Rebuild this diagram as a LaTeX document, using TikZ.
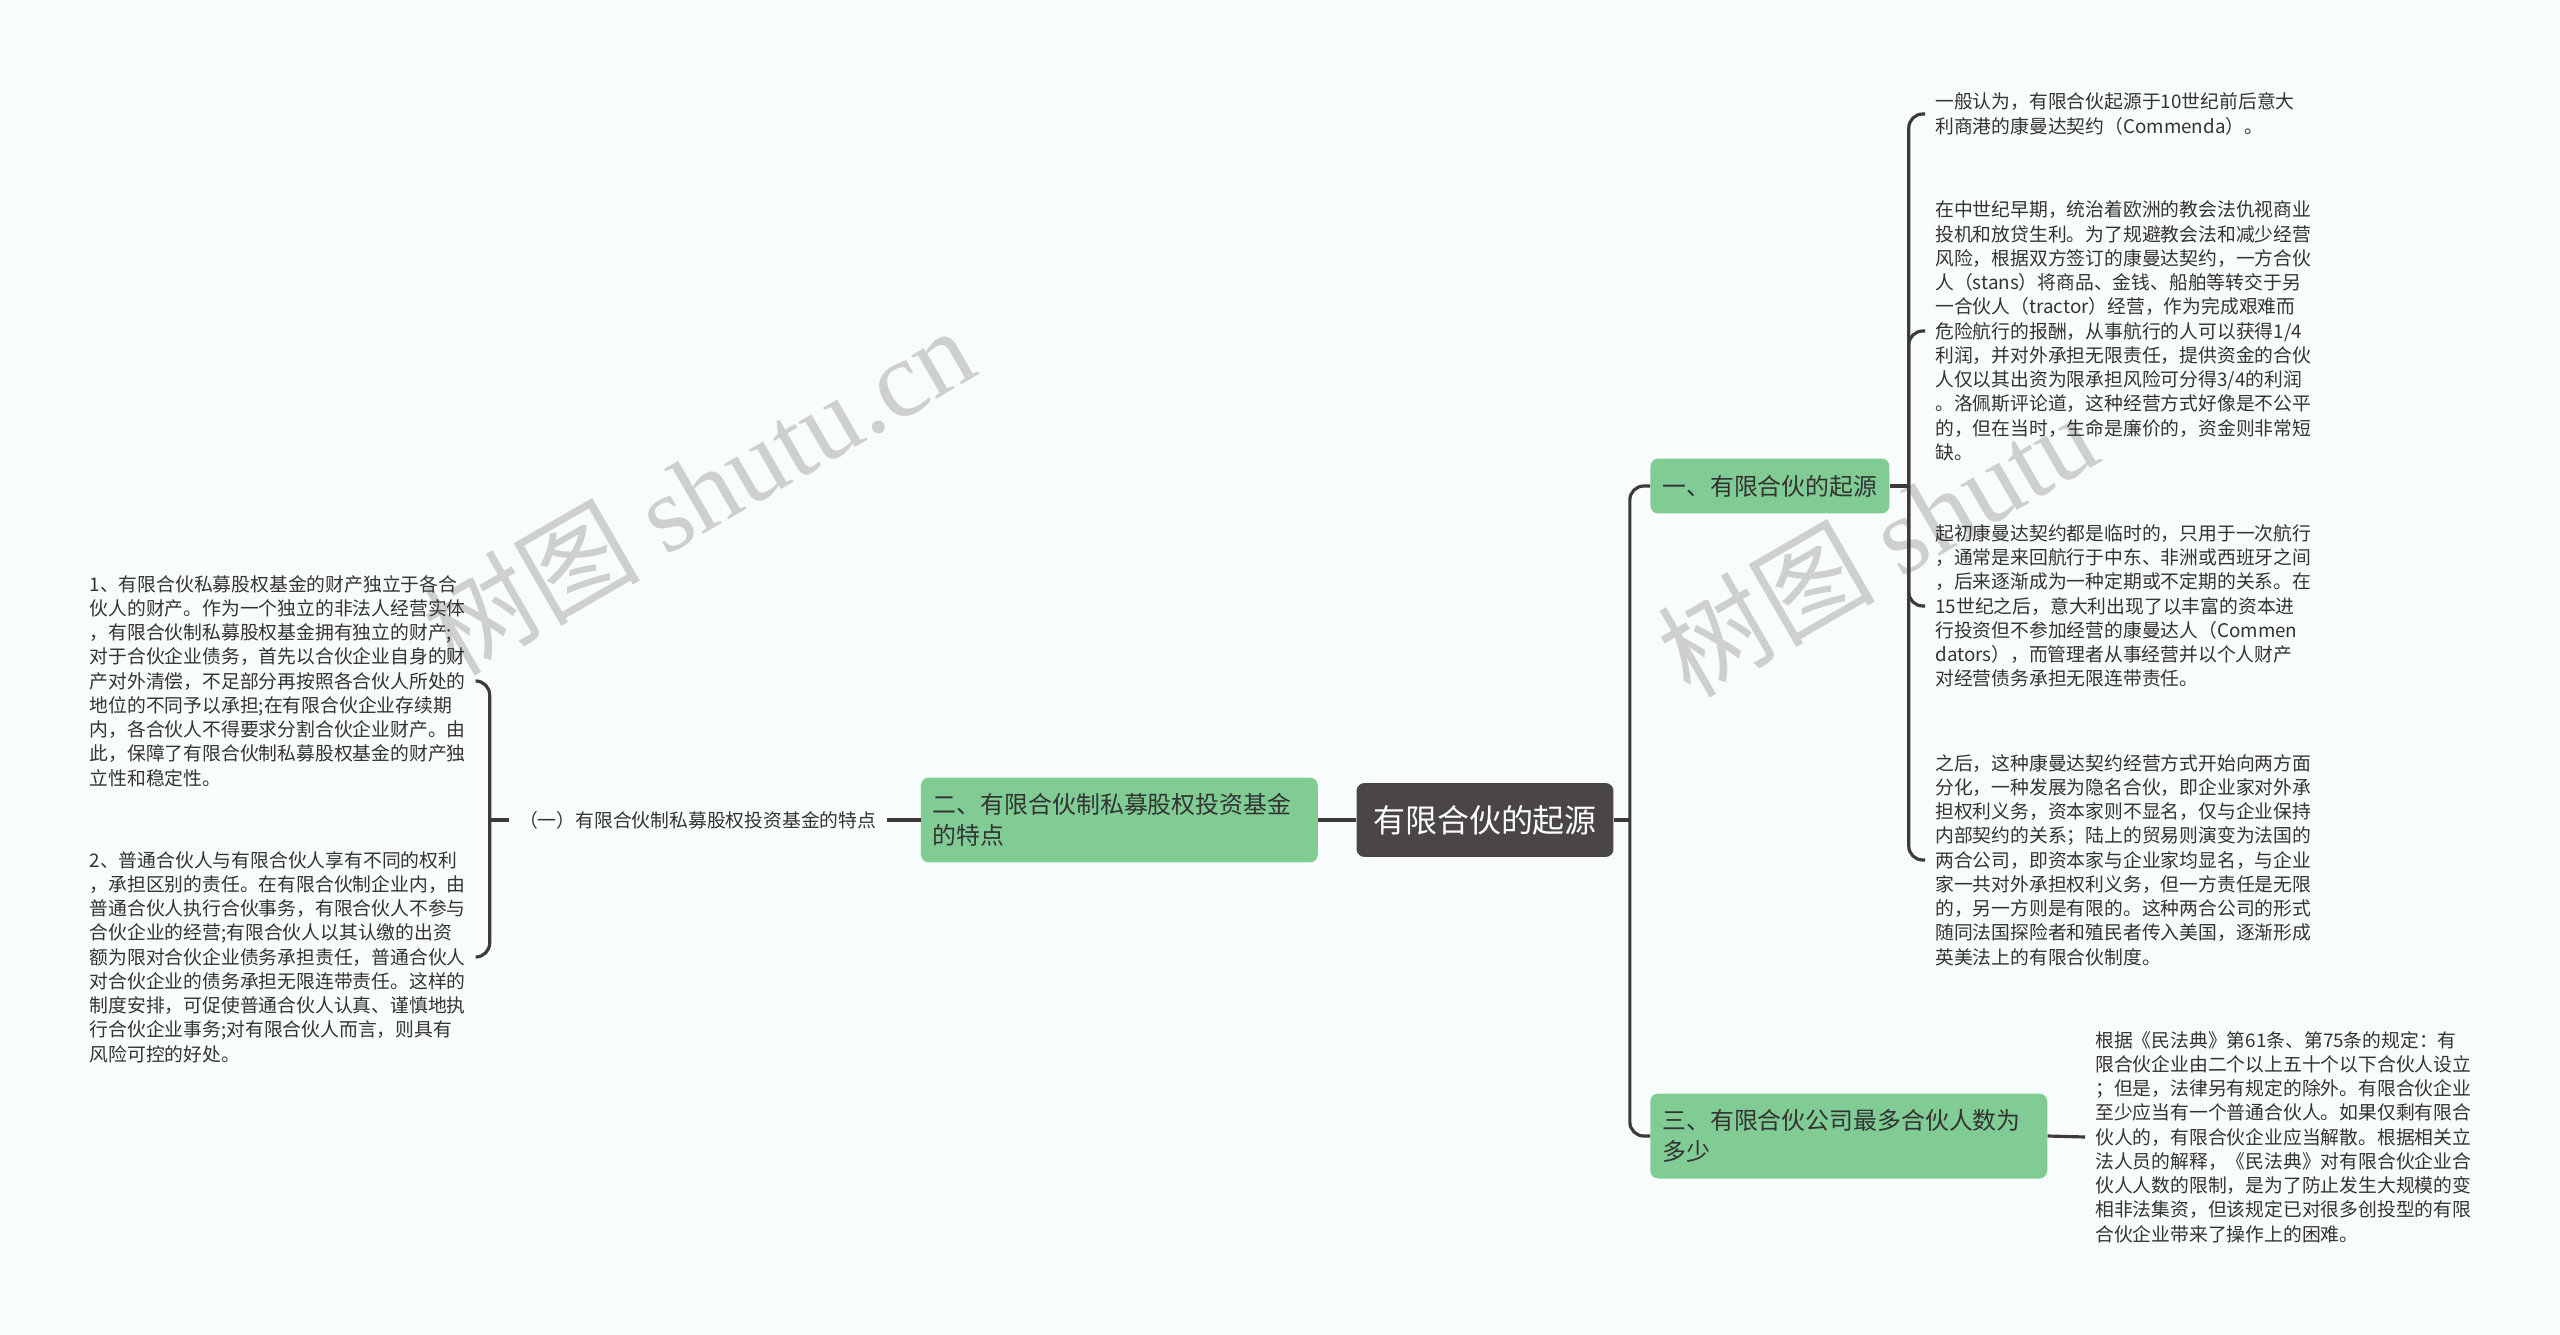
\documentclass[tikz,border=0pt]{standalone}
\usepackage{fontspec}
\setmainfont{Noto Sans CJK SC}
\newfontfamily\wmfont{Liberation Serif}
\usepackage{tikz}
\usetikzlibrary{positioning, calc}

\definecolor{bgcol}{RGB}{248,252,253}
\definecolor{rootcol}{RGB}{74,70,70}
\definecolor{topiccol}{RGB}{128,204,148}
\definecolor{linecol}{RGB}{62,58,58}
\definecolor{txtcol}{RGB}{51,51,51}
\definecolor{wmcol}{RGB}{206,208,208}

\begin{document}
\begin{tikzpicture}[
            x=0.02cm, y=-0.02cm,
            % Estilos de los nodos
            rootbox/.style={rectangle, rounded corners=0.16cm, fill=rootcol, text=white, minimum width=5.14cm, minimum height=1.48cm, font=\fontsize{18.2pt}{22pt}\selectfont},
            topic/.style={rectangle, rounded corners=0.16cm, fill=topiccol, text=txtcol, minimum height=1.1cm, inner xsep=0.24cm, font=\fontsize{13.6pt}{17.6pt}\selectfont},
            topicwide/.style={topic, text width=7.46cm, align=left, minimum height=1.7cm},
            para/.style={text=txtcol, align=left, inner xsep=0.2cm, inner ysep=0pt, font=\fontsize{10.7pt}{13.8pt}\selectfont},
            sub/.style={text=txtcol, inner xsep=0.2cm, font=\fontsize{10.7pt}{13.8pt}\selectfont},
            link/.style={draw=linecol, line width=1.8pt, rounded corners=0.28cm},
            wmark/.style={text=wmcol, rotate=30, font=\fontsize{62pt}{70pt}\selectfont}
        ]

            % Fondo y marcas de agua
            \fill[bgcol] (0,0) rectangle (2560,1335);
            \useasboundingbox (0,0) rectangle (2560,1335);
            \node[wmark] (wm1) at (698,490) {树图 {\wmfont shutu.cn}};
            \node[wmark] (wm2) at (1877,544) {树图 {\wmfont shutu}};

            % Nodos principales
            \node[rootbox] (root) at (1485,820) {有限合伙的起源};
            \node[topicwide, left=0.76cm of root] (n2) {二、有限合伙制私募股权投资基金\\的特点};
            \node[sub, left=0.68cm of n2] (lab) {（一）有限合伙制私募股权投资基金的特点};
            \node[topic, anchor=west] (n1) at (1650,486) {一、有限合伙的起源};
            \node[topicwide, anchor=west] (n3) at (1650,1136) {三、有限合伙公司最多合伙人数为\\多少};

            % Textos de la izquierda
            \node[para, anchor=east] (lb1) at (476,681) {1、有限合伙私募股权基金的财产独立于各合\\伙人的财产。作为一个独立的非法人经营实体\\，有限合伙制私募股权基金拥有独立的财产;\\对于合伙企业债务，首先以合伙企业自身的财\\产对外清偿，不足部分再按照各合伙人所处的\\地位的不同予以承担;在有限合伙企业存续期\\内，各合伙人不得要求分割合伙企业财产。由\\此，保障了有限合伙制私募股权基金的财产独\\立性和稳定性。};
            \node[para, anchor=east] (lb2) at (476,957) {2、普通合伙人与有限合伙人享有不同的权利\\，承担区别的责任。在有限合伙制企业内，由\\普通合伙人执行合伙事务，有限合伙人不参与\\合伙企业的经营;有限合伙人以其认缴的出资\\额为限对合伙企业债务承担责任，普通合伙人\\对合伙企业的债务承担无限连带责任。这样的\\制度安排，可促使普通合伙人认真、谨慎地执\\行合伙企业事务;对有限合伙人而言，则具有\\风险可控的好处。};

            % Textos de la derecha
            \node[para, anchor=west] (rb1) at (1925,114) {一般认为，有限合伙起源于10世纪前后意大\\利商港的康曼达契约（Commenda）。};
            \node[para, anchor=west] (rb2) at (1925,331) {在中世纪早期，统治着欧洲的教会法仇视商业\\投机和放贷生利。为了规避教会法和减少经营\\风险，根据双方签订的康曼达契约，一方合伙\\人（stans）将商品、金钱、船舶等转交于另\\一合伙人（tractor）经营，作为完成艰难而\\危险航行的报酬，从事航行的人可以获得1/4\\利润，并对外承担无限责任，提供资金的合伙\\人仅以其出资为限承担风险可分得3/4的利润\\。洛佩斯评论道，这种经营方式好像是不公平\\的，但在当时，生命是廉价的，资金则非常短\\缺。};
            \node[para, anchor=west] (rb3) at (1925,606) {起初康曼达契约都是临时的，只用于一次航行\\，通常是来回航行于中东、非洲或西班牙之间\\，后来逐渐成为一种定期或不定期的关系。在\\15世纪之后，意大利出现了以丰富的资本进\\行投资但不参加经营的康曼达人（Commen\\dators），而管理者从事经营并以个人财产\\对经营债务承担无限连带责任。};
            \node[para, anchor=west] (rb4) at (1925,860) {之后，这种康曼达契约经营方式开始向两方面\\分化，一种发展为隐名合伙，即企业家对外承\\担权利义务，资本家则不显名，仅与企业保持\\内部契约的关系；陆上的贸易则演变为法国的\\两合公司，即资本家与企业家均显名，与企业\\家一共对外承担权利义务，但一方责任是无限\\的，另一方则是有限的。这种两合公司的形式\\随同法国探险者和殖民者传入美国，逐渐形成\\英美法上的有限合伙制度。};
            \node[para, anchor=west] (rb5) at (2085,1137) {根据《民法典》第61条、第75条的规定：有\\限合伙企业由二个以上五十个以下合伙人设立\\；但是，法律另有规定的除外。有限合伙企业\\至少应当有一个普通合伙人。如果仅剩有限合\\伙人的，有限合伙企业应当解散。根据相关立\\法人员的解释，《民法典》对有限合伙企业合\\伙人人数的限制，是为了防止发生大规模的变\\相非法集资，但该规定已对很多创投型的有限\\合伙企业带来了操作上的困难。};

            % Conexiones del centro
            \draw[link] (root.east) -- ++(16,0) coordinate (jr);
            \draw[link] (jr) |- (n1.west);
            \draw[link] (jr) |- (n3.west);
            \draw[link] (root.west) -- (n2.east);
            \draw[link] (n2.west) -- (lab.east);

            % Llaves hacia los textos
            \draw[link] (lab.west) -- ++(-19,0) coordinate (jl);
            \foreach \b in {lb1,lb2} \draw[link] (jl) |- (\b.east);
            \draw[link] (n1.east) -- ++(19,0) coordinate (j1);
            \foreach \b in {rb1,rb2,rb3,rb4} \draw[link] (j1) |- (\b.west);
            \draw[link] (n3.east) -- (rb5.west);
        \end{tikzpicture}
\end{document}
